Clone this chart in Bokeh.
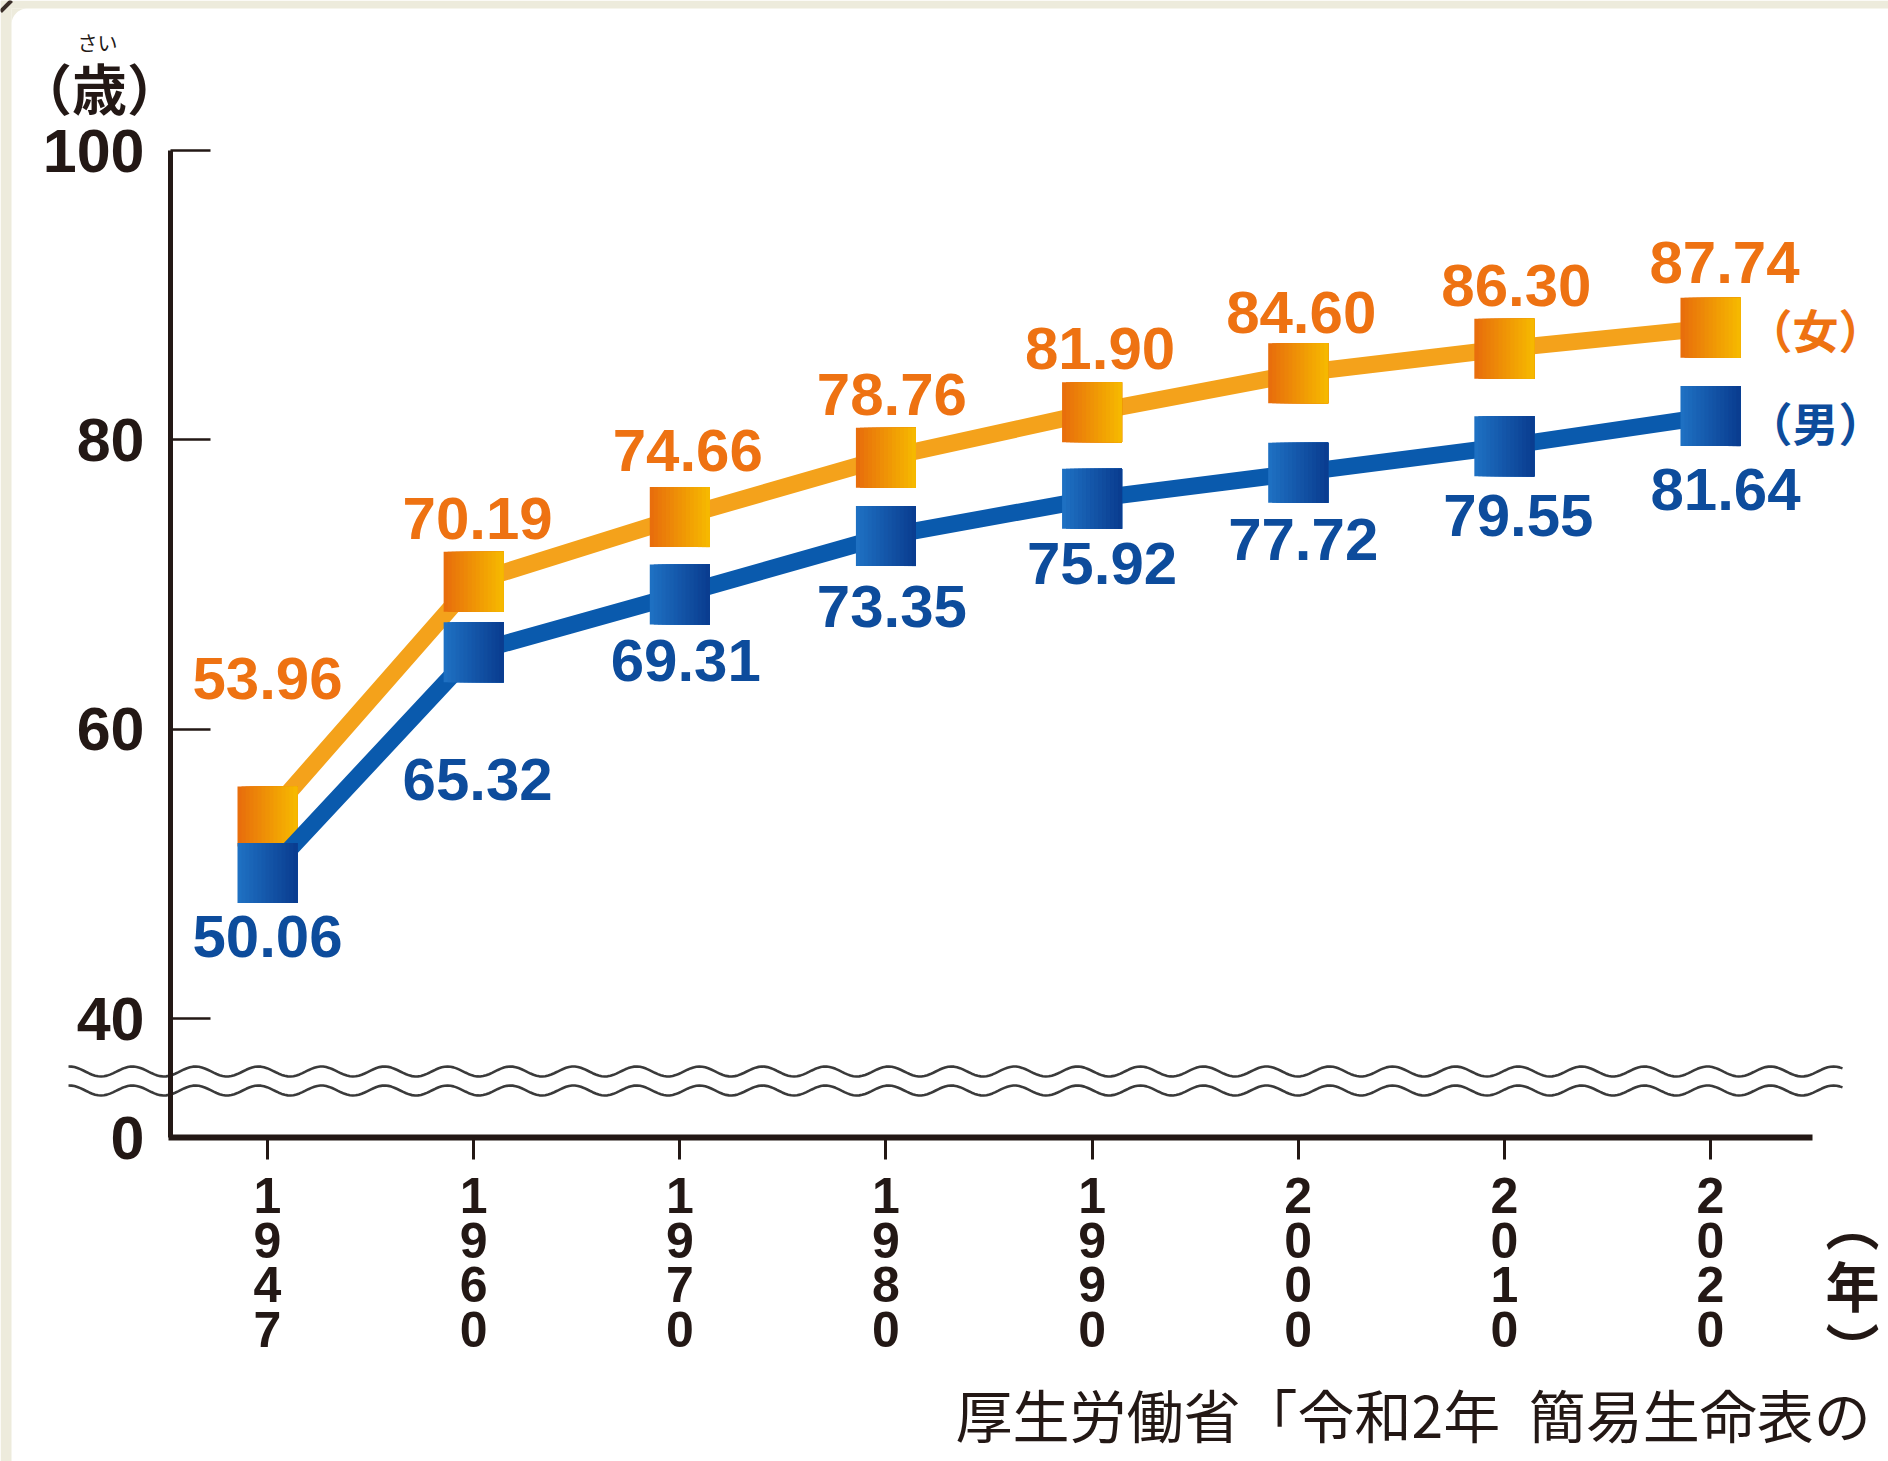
import numpy as np
from bokeh.plotting import figure
from bokeh.models import Range1d, LinearAxis, FixedTicker, ColumnDataSource
from bokeh.core.properties import value
from bokeh.embed import file_html
from bokeh.resources import INLINE

# ---------------- data ----------------
years = ["1947", "1960", "1970", "1980", "1990", "2000", "2010", "2020"]
female = [53.96, 70.19, 74.66, 78.76, 81.90, 84.60, 86.30, 87.74]
male = [50.06, 65.32, 69.31, 73.35, 75.92, 77.72, 79.55, 81.64]
y_ticks = [40, 60, 80, 100]
y_unit = "（歳）"
y_unit_ruby = "さい"
x_unit = "︵\n年\n︶"
female_name = "（女）"
male_name = "（男）"
source_text = "厚生労働省「令和2年\u2002簡易生命表の"

# ---------------- layout constants (pixels) ----------------
W, H = 1888, 1461
X0_PX, DX_PX = 267.0, 206.14      # pixel x of first category, pixels per category
Y100_PX, PX_PER_Y = 150.0, 14.467  # pixel y of value 100, pixels per year of age
BASE = 31.75                        # value where the (broken) axis shows 0


def xd(px):
    return (px - X0_PX) / DX_PX


def yd(py):
    return 100 - (py - Y100_PX) / PX_PER_Y


DARK = "#231815"
BEIGE = "#EDEBDC"
ORANGE_LINE = "#F4A21B"
BLUE_LINE = "#0A5AAD"
ORANGE_TEXT = "#EE7212"
BLUE_TEXT = "#0D4C9C"
ORANGE_L, ORANGE_R = "#E86E0C", "#F6B800"
BLUE_L, BLUE_R = "#1E70C2", "#0A3D90"

p = figure(width=W, height=H,
           x_range=Range1d(xd(0), xd(W)), y_range=Range1d(yd(H), yd(0)),
           output_backend="svg", toolbar_location=None,
           x_axis_location=None, y_axis_location=None,
           min_border=0, outline_line_color=None,
           background_fill_color="white", border_fill_color="white")
p.grid.visible = False

# panel border (beige strips + rounded corner)
p.quad(left=[xd(0)], right=[xd(11)], bottom=[yd(H)], top=[yd(0)], color=BEIGE, line_color=None)
p.quad(left=[xd(0)], right=[xd(W)], bottom=[yd(8)], top=[yd(0)], color=BEIGE, line_color=None)
r = 16
t = np.linspace(0, np.pi / 2, 20)
cx, cy = 11 + r, 8 + r
corner_x = [xd(11)] + [xd(cx - r * np.sin(a)) for a in t[::-1]] + [xd(cx)]
corner_y = [yd(8)] + [yd(cy - r * np.cos(a)) for a in t[::-1]] + [yd(8)]
p.patch(corner_x, corner_y, color=BEIGE, line_color=None)
p.line([xd(0), xd(11)], [yd(11), yd(0)], line_width=4, color="#3A2E28")

# axis break waves
wx = np.linspace(68, 1842, 600)
for yc in (1071, 1090):
    wy = yc - 5 * np.cos(2 * np.pi * (wx - 132) / 63)
    p.line([xd(v) for v in wx], [yd(v) for v in wy], line_width=2.6, color="#3A3A3A")

# axes
y_over = {BASE: "0", str(BASE): "0"}
y_axis = LinearAxis(fixed_location=xd(170), bounds=(BASE, 100),
                    ticker=FixedTicker(ticks=[BASE] + y_ticks, minor_ticks=[]),
                    major_label_overrides=y_over,
                    axis_line_width=5, axis_line_color=DARK,
                    major_tick_in=40, major_tick_out=0, major_tick_line_width=2.5,
                    major_tick_line_color=DARK, minor_tick_in=0, minor_tick_out=0,
                    major_label_text_font="Liberation Sans", major_label_text_font_style="bold",
                    major_label_text_font_size="61px", major_label_text_color=DARK,
                    major_label_standoff=26)
p.add_layout(y_axis, "left")

x_over = {}
for i, yr in enumerate(years):
    x_over[i] = "\n".join(yr)
    x_over[str(i)] = "\n".join(yr)
x_axis = LinearAxis(fixed_location=BASE, bounds=(xd(167.5), xd(1812)),
                    ticker=FixedTicker(ticks=list(range(len(years))), minor_ticks=[]),
                    major_label_overrides=x_over,
                    axis_line_width=6, axis_line_color=DARK,
                    major_tick_in=0, major_tick_out=22, major_tick_line_width=3,
                    major_tick_line_color=DARK, minor_tick_in=0, minor_tick_out=0,
                    major_label_text_font="Liberation Sans", major_label_text_font_style="bold",
                    major_label_text_font_size="50px", major_label_text_color=DARK,
                    major_label_text_line_height=0.8, major_label_standoff=8)
p.add_layout(x_axis, "below")

xs = list(range(len(years)))


def hex2rgb(h):
    h = h.lstrip("#")
    return [int(h[i:i + 2], 16) for i in (0, 2, 4)]


def mix(c1, c2, f):
    a, b = hex2rgb(c1), hex2rgb(c2)
    return "#%02x%02x%02x" % tuple(int(round(a[j] + (b[j] - a[j]) * f)) for j in range(3))


MS = 60   # marker size in px
NS = 15   # gradient strips


def marker_source(vals, cl, cr):
    d = dict(x=[], y=[], w=[], c=[])
    step = MS / NS
    for k in range(NS):
        left = -MS / 2 + k * step
        for i, v in enumerate(vals):
            d["x"].append(xs[i] + ((left + MS / 2) / 2) / DX_PX)
            d["y"].append(v)
            d["w"].append(MS - k * step)
            d["c"].append(mix(cl, cr, k / (NS - 1)))
    return ColumnDataSource(d)


# female
p.line(xs, female, line_width=17, color=ORANGE_LINE)
p.rect(x="x", y="y", width="w", height=MS, width_units="screen", height_units="screen",
       fill_color="c", line_color=None, source=marker_source(female, ORANGE_L, ORANGE_R))
# male
p.line(xs, male, line_width=17, color=BLUE_LINE)
p.rect(x="x", y="y", width="w", height=MS, width_units="screen", height_units="screen",
       fill_color="c", line_color=None, source=marker_source(male, BLUE_L, BLUE_R))

# value labels
f_dx = [0, 4, 8, 6, 8, 3, 12, 14]
m_dx = [0, 4, 6, 6, 10, 5, 14, 15]
f_dy = [-138, -63, -67, -63, -64, -61, -63, -65]
m_dy = [64, 127, 66, 70, 65, 67, 69, 73]
f_src = ColumnDataSource(dict(x=xs, y=female, t=[f"{v:.2f}" for v in female], dx=f_dx, dy=f_dy))
m_src = ColumnDataSource(dict(x=xs, y=male, t=[f"{v:.2f}" for v in male], dx=m_dx, dy=m_dy))
for src, col in ((f_src, ORANGE_TEXT), (m_src, BLUE_TEXT)):
    p.text(x="x", y="y", text="t", source=src, x_offset="dx", y_offset="dy",
           text_font=value("Liberation Sans"), text_font_style="bold",
           text_font_size="60px", text_color=col,
           text_align="center", text_baseline="middle")

# series names at line ends
p.text(x=[xs[-1]], y=[female[-1]], text=[female_name], x_offset=105, y_offset=0,
       text_font=value("Noto Sans CJK JP"), text_font_style="bold", text_font_size="46px",
       text_color=ORANGE_TEXT, text_align="center", text_baseline="middle")
p.text(x=[xs[-1]], y=[male[-1]], text=[male_name], x_offset=105, y_offset=5,
       text_font=value("Noto Sans CJK JP"), text_font_style="bold", text_font_size="46px",
       text_color=BLUE_TEXT, text_align="center", text_baseline="middle")

# unit labels
p.text(x=[xd(99)], y=[yd(85)], text=[y_unit], text_font=value("Noto Sans CJK JP"),
       text_font_style="bold", text_font_size="55px", text_color=DARK,
       text_align="center", text_baseline="middle")
p.text(x=[xd(97)], y=[yd(42)], text=[y_unit_ruby], text_font=value("Noto Sans CJK JP"),
       text_font_size="20px", text_color=DARK, text_align="center", text_baseline="middle")
p.text(x=[xd(1852)], y=[yd(1284)], text=[x_unit], text_font=value("Noto Sans CJK JP"),
       text_font_style="bold", text_font_size="54px", text_color=DARK,
       text_line_height=0.78, text_align="center", text_baseline="middle")

# source
p.text(x=[xd(955)], y=[yd(1412)], text=[source_text], text_font=value("Noto Sans CJK JP"),
       text_font_size="57px", text_color=DARK, text_align="left", text_baseline="middle")

open("out.html", "w").write(file_html(p, INLINE))
